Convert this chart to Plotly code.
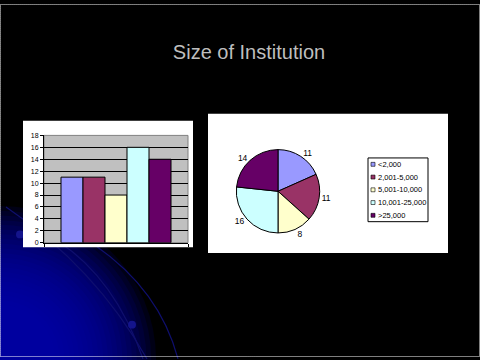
import plotly.graph_objects as go

# ---------------- data ----------------
title_text = "Size of Institution"
size_labels = ["<2,000", "2,001-5,000", "5,001-10,000", "10,001-25,000", ">25,000"]
counts = [11, 11, 8, 16, 14]
colors = ["#9999FF", "#993366", "#FFFFCC", "#CCFFFF", "#660066"]
group = ["Institutions"]
y_ticks = [0, 2, 4, 6, 8, 10, 12, 14, 16, 18]

W, H = 480, 360


def px(x):
    return x / W


def py(y):
    return 1 - y / H


fig = go.Figure()

# ---------------- bar chart ----------------
for lab, val, col in zip(size_labels, counts, colors):
    fig.add_trace(go.Bar(
        x=group, y=[val], name=lab,
        marker=dict(color=col, line=dict(color="black", width=1)),
        showlegend=False, hoverinfo="skip",
    ))

# ---------------- pie chart ----------------
fig.add_trace(go.Pie(
    labels=size_labels, values=counts, sort=False, direction="clockwise",
    rotation=0,
    marker=dict(colors=colors, line=dict(color="black", width=1)),
    textinfo="value", textposition="outside",
    textfont=dict(family="Liberation Sans, Arial", size=8.5, color="black"),
    domain=dict(x=[px(235.5), px(320.5)], y=[py(233.5), py(148.5)]),
    showlegend=False, hoverinfo="skip",
))

shapes = []

# background blue glow (bottom-left)
cx, cy = 0, 362
n = 22
for i in range(n):
    r = 156 - i * (156 - 55) / (n - 1)
    shapes.append(dict(type="circle", xref="paper", yref="paper", layer="below",
                       x0=px(cx - r), x1=px(cx + r), y0=py(cy + r), y1=py(cy - r),
                       fillcolor="rgba(0,0,170,0.12)", line=dict(width=0)))


def qpath(p0, c, p1):
    return "M {} {} Q {} {} {} {}".format(px(p0[0]), py(p0[1]), px(c[0]), py(c[1]),
                                          px(p1[0]), py(p1[1]))


for p0, c, p1 in [((6, 207), (95, 268), (147, 362)),
                  ((58, 242), (115, 280), (143, 362)),
                  ((95, 246), (160, 292), (178, 362))]:
    shapes.append(dict(type="path", xref="paper", yref="paper", layer="below",
                       path=qpath(p0, c, p1),
                       line=dict(color="rgb(15,15,110)", width=1.2)))

for (dx, dy) in [(20, 235), (132, 327)]:
    shapes.append(dict(type="circle", xref="paper", yref="paper", layer="below",
                       x0=px(dx - 4), x1=px(dx + 4), y0=py(dy + 4), y1=py(dy - 4),
                       fillcolor="rgb(20,20,140)", line=dict(width=0)))

# white chart boxes
shapes.append(dict(type="rect", xref="paper", yref="paper", layer="below",
                   x0=px(23), x1=px(193), y0=py(248), y1=py(119),
                   fillcolor="white", line=dict(width=0)))
shapes.append(dict(type="rect", xref="paper", yref="paper", layer="below",
                   x0=px(208), x1=px(448), y0=py(254), y1=py(112),
                   fillcolor="white", line=dict(width=0)))

# gray plot area of bar chart
shapes.append(dict(type="rect", xref="x domain", yref="y domain", layer="below",
                   x0=0, x1=1, y0=0, y1=1,
                   fillcolor="#C0C0C0", line=dict(color="#808080", width=1)))

# manual legend for the pie
lx0, lx1, ly0, ly1 = 368, 428, 157, 222
shapes.append(dict(type="rect", xref="paper", yref="paper", layer="above",
                   x0=px(lx0), x1=px(lx1), y0=py(ly1), y1=py(ly0),
                   fillcolor="white", line=dict(color="black", width=1)))
annotations = []
row_h = (ly1 - ly0) / len(size_labels)
for i, (lab, col) in enumerate(zip(size_labels, colors)):
    yc = ly0 + row_h * (i + 0.5)
    shapes.append(dict(type="rect", xref="paper", yref="paper", layer="above",
                       x0=px(371), x1=px(375), y0=py(yc + 2), y1=py(yc - 2),
                       fillcolor=col, line=dict(color="black", width=0.6)))
    annotations.append(dict(xref="paper", yref="paper", x=px(375.5), y=py(yc),
                            xanchor="left", yanchor="middle", showarrow=False,
                            text=lab,
                            font=dict(family="Liberation Sans, Arial", size=7.5,
                                      color="black")))

# dotted outer border
shapes.append(dict(type="rect", xref="paper", yref="paper", layer="above",
                   x0=px(0.5), x1=px(479.5), y0=py(359.5), y1=py(0.5),
                   line=dict(color="white", width=1, dash="1px,1px")))

fig.update_layout(
    width=W, height=H,
    margin=dict(l=0, r=0, t=0, b=0),
    paper_bgcolor="black", plot_bgcolor="rgba(0,0,0,0)",
    barmode="group", bargap=0.236, bargroupgap=0,
    title=dict(text=title_text, x=px(249), y=py(52), xanchor="center",
               yanchor="middle",
               font=dict(family="Liberation Sans, Arial", size=20, color="#BEBEBE")),
    xaxis=dict(domain=[px(44), px(188)], showgrid=False, showline=True,
               linecolor="black", linewidth=1, ticks="outside", tickson="boundaries",
               ticklen=3, tickcolor="black", showticklabels=False, zeroline=False,
               fixedrange=True),
    yaxis=dict(domain=[py(243.5), py(134)], range=[0, 18], tickvals=y_ticks,
               showgrid=True, gridcolor="black", gridwidth=1, showline=True,
               linecolor="black", linewidth=1, ticks="outside", ticklen=3,
               tickcolor="black", zeroline=False,
               tickfont=dict(family="Liberation Sans, Arial", size=7, color="black"),
               fixedrange=True),
    shapes=shapes,
    annotations=annotations,
)

fig.write_html(
    "out.html",
    config={"displayModeBar": False},
    post_script="document.body.style.margin='0';document.body.style.overflow='hidden';",
)
